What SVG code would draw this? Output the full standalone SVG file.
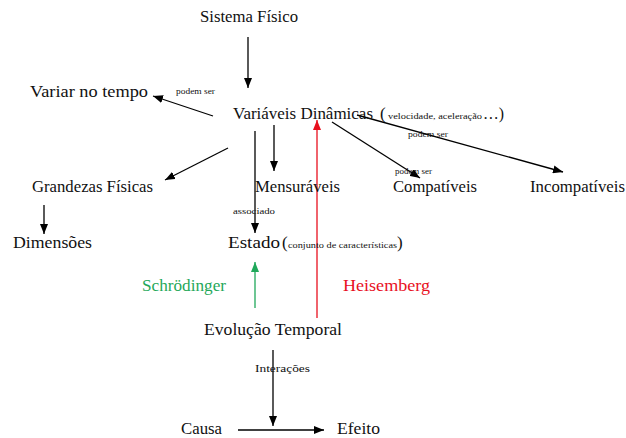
<svg xmlns="http://www.w3.org/2000/svg" width="626" height="438" viewBox="0 0 626 438">
  <defs>
    <marker id="ah" viewBox="0 0 10 8" refX="10" refY="4" markerWidth="10" markerHeight="8" markerUnits="userSpaceOnUse" orient="auto">
      <path d="M0,0 L10,4 L0,8 Z" fill="#000"/>
    </marker>
    <marker id="ah-red" viewBox="0 0 10 8" refX="10" refY="4" markerWidth="10" markerHeight="8" markerUnits="userSpaceOnUse" orient="auto">
      <path d="M0,0 L10,4 L0,8 Z" fill="#e8101e"/>
    </marker>
    <marker id="ah-green" viewBox="0 0 10 8" refX="10" refY="4" markerWidth="10" markerHeight="8" markerUnits="userSpaceOnUse" orient="auto">
      <path d="M0,0 L10,4 L0,8 Z" fill="#1fa85a"/>
    </marker>
  </defs>
  <style>
    text { font-family: "Liberation Serif", "DejaVu Serif", serif; fill: #111; }
    .n { font-size: 17px; }
    .s { font-size: 10px; }
    .xs { font-size: 7.5px; }
    .c { stroke: #000; stroke-width: 1.3; fill: none; marker-end: url(#ah); }
    .red { stroke: #e8101e; stroke-width: 1.3; fill: none; marker-end: url(#ah-red); }
    .green { stroke: #1fa85a; stroke-width: 1.3; fill: none; marker-end: url(#ah-green); }
  </style>
  <rect width="626" height="438" fill="#fff"/>

  <g id="connectors">
    <line class="c" x1="248" y1="37" x2="248" y2="88"/>
    <line class="c" x1="213" y1="116" x2="153" y2="96"/>
    <line class="c" x1="228" y1="148" x2="165" y2="180"/>
    <line class="c" x1="44" y1="205" x2="44" y2="234"/>
    <line class="c" x1="274" y1="125" x2="274" y2="171"/>
    <line class="c" x1="255" y1="131" x2="255" y2="233"/>
    <line class="c" x1="332" y1="122" x2="420" y2="178"/>
    <line class="c" x1="357" y1="115" x2="563" y2="172"/>
    <line class="red" x1="317" y1="318" x2="317" y2="120"/>
    <line class="green" x1="255" y1="308" x2="255" y2="262"/>
    <line class="c" x1="273" y1="350" x2="273" y2="426"/>
    <line class="c" x1="238" y1="430" x2="324" y2="430"/>
    <text class="xs" x="176" y="94" textLength="39" lengthAdjust="spacingAndGlyphs">podem ser</text>
    <text class="xs" x="408" y="137" textLength="40" lengthAdjust="spacingAndGlyphs">podem ser</text>
    <text class="xs" x="395" y="174" textLength="37" lengthAdjust="spacingAndGlyphs">podem ser</text>
    <text class="s" x="233" y="214" textLength="42" lengthAdjust="spacingAndGlyphs" style="font-size:9px">associado</text>
    <text class="s" x="255" y="372" textLength="55" lengthAdjust="spacingAndGlyphs">Interações</text>
  </g>

  <g id="sistema-fisico"><text class="n" x="200" y="22" textLength="98" lengthAdjust="spacingAndGlyphs">Sistema Físico</text></g>
  <g id="variar-no-tempo"><text class="n" x="30" y="97" textLength="118" lengthAdjust="spacingAndGlyphs">Variar no tempo</text></g>
  <g id="variaveis-dinamicas">
    <text class="n" x="233" y="119" textLength="140" lengthAdjust="spacingAndGlyphs">Variáveis Dinâmicas</text>
    <text class="n" x="380" y="119">(</text>
    <text class="xs" x="388" y="119" textLength="94" lengthAdjust="spacingAndGlyphs">velocidade, aceleração</text>
    <text class="n" x="483" y="119" textLength="21" lengthAdjust="spacingAndGlyphs">…)</text>
  </g>
  <g id="grandezas-fisicas"><text class="n" x="32" y="192" textLength="121" lengthAdjust="spacingAndGlyphs">Grandezas Físicas</text></g>
  <g id="dimensoes"><text class="n" x="13" y="248" textLength="79" lengthAdjust="spacingAndGlyphs">Dimensões</text></g>
  <g id="mensuraveis"><text class="n" x="255" y="192" textLength="85" lengthAdjust="spacingAndGlyphs">Mensuráveis</text></g>
  <g id="compativeis"><text class="n" x="393" y="192" textLength="84" lengthAdjust="spacingAndGlyphs">Compatíveis</text></g>
  <g id="incompativeis"><text class="n" x="530" y="192" textLength="95" lengthAdjust="spacingAndGlyphs">Incompatíveis</text></g>
  <g id="estado">
    <text class="n" x="228" y="248" textLength="52" lengthAdjust="spacingAndGlyphs">Estado</text>
    <text class="n" x="282" y="248">(</text>
    <text class="xs" x="288" y="248" textLength="109" lengthAdjust="spacingAndGlyphs">conjunto de características</text>
    <text class="n" x="397" y="248">)</text>
  </g>
  <g id="schrodinger"><text class="n" x="142" y="291" textLength="84" lengthAdjust="spacingAndGlyphs" style="fill:#1fa85a">Schrödinger</text></g>
  <g id="heisemberg"><text class="n" x="343" y="291" textLength="87" lengthAdjust="spacingAndGlyphs" style="fill:#e8101e">Heisemberg</text></g>
  <g id="evolucao-temporal"><text class="n" x="204" y="335" textLength="138" lengthAdjust="spacingAndGlyphs">Evolução Temporal</text></g>
  <g id="causa"><text class="n" x="181" y="434" textLength="41" lengthAdjust="spacingAndGlyphs">Causa</text></g>
  <g id="efeito"><text class="n" x="337" y="434" textLength="43" lengthAdjust="spacingAndGlyphs">Efeito</text></g>
</svg>
